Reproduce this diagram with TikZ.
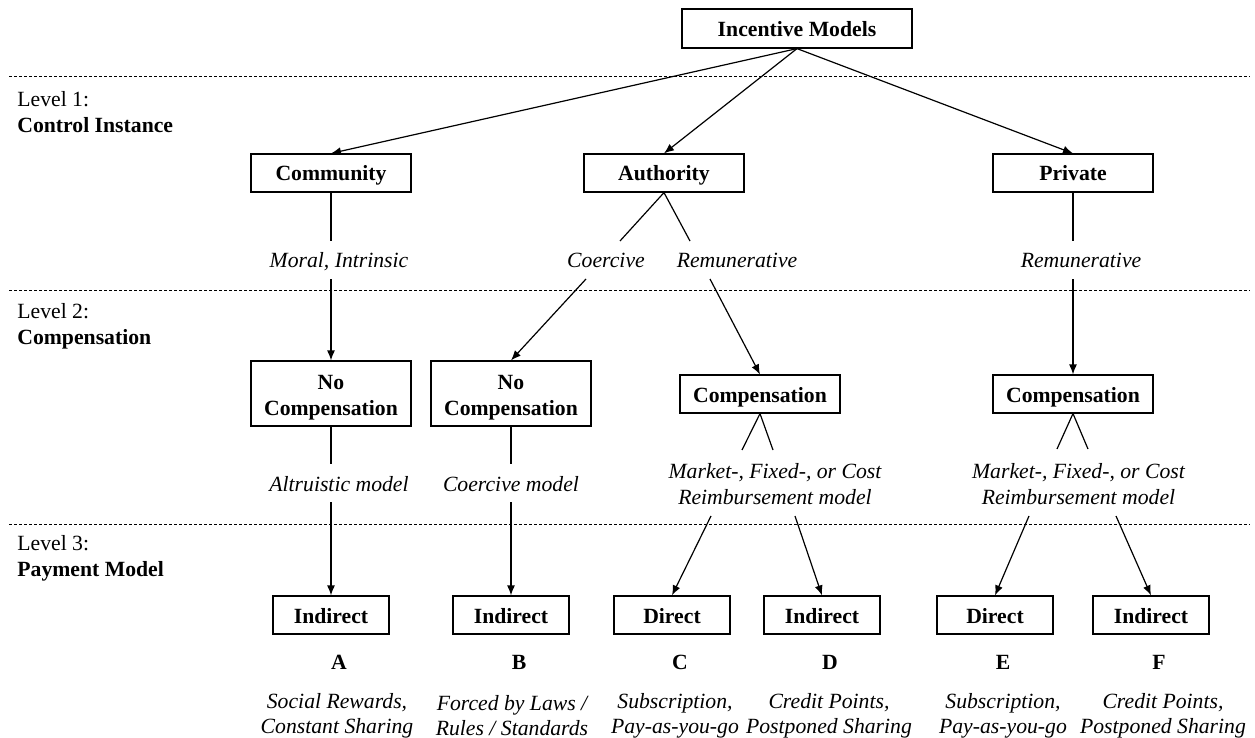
\documentclass[tikz,border=0pt]{standalone}
\usepackage{fontspec}
\setmainfont{Liberation Serif}
\usetikzlibrary{arrows.meta}

\newcommand{\diagsize}{\fontsize{10.85pt}{13pt}\selectfont}

\tikzset{
	box/.style = {draw, line width=0.6pt, font=\diagsize\bfseries, inner sep=0pt, align=center,
		minimum width=80pt, minimum height=19pt, text height=8pt, text depth=0pt},
	twobox/.style = {draw, line width=0.6pt, font=\diagsize\bfseries, inner sep=0pt, align=center,
		minimum width=80pt, minimum height=32.5pt},
	smallbox/.style = {box, minimum width=58pt},
	lab/.style = {font=\diagsize\itshape, inner sep=0pt, minimum height=19pt, text height=8pt, text depth=0pt},
	twolab/.style = {font=\diagsize\itshape, inner sep=0pt, align=center},
	ltr/.style = {font=\diagsize\bfseries, inner sep=0pt},
	lvl/.style = {font=\diagsize, anchor=west, align=left, inner sep=0pt},
	link/.style = {line width=0.6pt},
	sep/.style = {line width=0.5pt, dash pattern=on 1.5pt off 1pt},
}

\begin{document}
\begin{tikzpicture}[x=0.5pt, y=-0.5pt, >={Latex[length=5pt,width=4pt]}]
					\useasboundingbox (0,0) rectangle (1255,738);

					% Dashed separators between the levels
						\foreach \y in {77, 291, 524} {
							\draw [sep] (9,\y) -- (1250,\y);
							}

					% Level names on the left
						\node [lvl] (lvlA) at (17,112) {Level 1:\\\textbf{Control Instance}};
						\node [lvl] (lvlB) at (17,326) {Level 2:\\\textbf{Compensation}};
						\node [lvl] (lvlC) at (17,558.5) {Level 3:\\\textbf{Payment Model}};

					% Root and control instances
						\node [box, minimum width=115pt, minimum height=19.5pt] (top) at (797,28.5) {Incentive Models};
						\node [box] (comm) at (331,173) {Community};
						\node [box] (auth) at (664,173) {Authority};
						\node [box] (priv) at (1073,173) {Private};

						\foreach \n in {comm, auth, priv} {
							\draw [link, ->] (top.south) -- (\n.north);
							}

					% Kinds of incentive
						\node [lab] (moral) at (339,260) {Moral, Intrinsic};
						\node [lab] (coer) at (606,260) {Coercive};
						\node [lab] (remA) at (737,260) {Remunerative};
						\node [lab] (remP) at (1081,260) {Remunerative};

						\coordinate (coerIn) at (620,241);
						\coordinate (remIn) at (690,241);
						\coordinate (coerOut) at (586,279);
						\coordinate (remOut) at (710,279);

					% Compensation level
						\node [twobox] (nocA) at (331,393.5) {\rule{0pt}{11pt}No\\Compensation};
						\node [twobox] (nocB) at (511,393.5) {\rule{0pt}{11pt}No\\Compensation};
						\node [box] (compC) at (760,394) {Compensation};
						\node [box] (compE) at (1073,394) {Compensation};

						\draw [link] (comm.south) -- (comm.south |- moral.north);
						\draw [link, ->] (nocA.north |- moral.south) -- (nocA.north);
						\draw [link] (auth.south) -- (coerIn);
						\draw [link] (auth.south) -- (remIn);
						\draw [link, ->] (coerOut) -- (nocB.north);
						\draw [link, ->] (remOut) -- (compC.north);
						\draw [link] (priv.south) -- (priv.south |- remP.north);
						\draw [link, ->] (compE.north |- remP.south) -- (compE.north);

					% Compensation models
						\node [lab] (altr) at (339,483) {Altruistic model};
						\node [lab] (coerM) at (511,483) {Coercive model};
						\node [twolab] (mktC) at (775,484) {Market-, Fixed-, or Cost\\Reimbursement model};
						\node [twolab] (mktE) at (1078.5,484) {Market-, Fixed-, or Cost\\Reimbursement model};

						\coordinate (mktCinL) at (742,450);
						\coordinate (mktCinR) at (773,450);
						\coordinate (mktCoutL) at (711,516);
						\coordinate (mktCoutR) at (795,516);
						\coordinate (mktEinL) at (1057,449);
						\coordinate (mktEinR) at (1088,449);
						\coordinate (mktEoutL) at (1029,516);
						\coordinate (mktEoutR) at (1116,516);

						\draw [link] (nocA.south) -- (nocA.south |- altr.north);
						\draw [link] (nocB.south) -- (nocB.south |- coerM.north);
						\draw [link] (compC.south) -- (mktCinL);
						\draw [link] (compC.south) -- (mktCinR);
						\draw [link] (compE.south) -- (mktEinL);
						\draw [link] (compE.south) -- (mktEinR);

					% Payment models with their letters and examples
						\foreach \nm/\x/\typ/\dx/\desc in {
							A/331/Indirect/337/{Social Rewards,\\Constant Sharing},
							B/511/Indirect/512/{Forced by Laws /\\Rules / Standards},
							C/672/Direct/675/{Subscription,\\Pay-as-you-go},
							D/822/Indirect/829/{Credit Points,\\Postponed Sharing},
							E/995/Direct/1003/{Subscription,\\Pay-as-you-go},
							F/1151/Indirect/1163/{Credit Points,\\Postponed Sharing}} {
								\node [smallbox] (pay\nm) at (\x,615) {\typ};
								\node [ltr] (ltr\nm) at (\x+8,662.5) {\nm};
								\node [twolab, font=\fontsize{10.85pt}{12.5pt}\selectfont\itshape] (dsc\nm) at (\dx,715.5) {\desc};
								}

						\draw [link, ->] (payA.north |- altr.south) -- (payA.north);
						\draw [link, ->] (payB.north |- coerM.south) -- (payB.north);
						\draw [link, ->] (mktCoutL) -- (payC.north);
						\draw [link, ->] (mktCoutR) -- (payD.north);
						\draw [link, ->] (mktEoutL) -- (payE.north);
						\draw [link, ->] (mktEoutR) -- (payF.north);

					\end{tikzpicture}
\end{document}
